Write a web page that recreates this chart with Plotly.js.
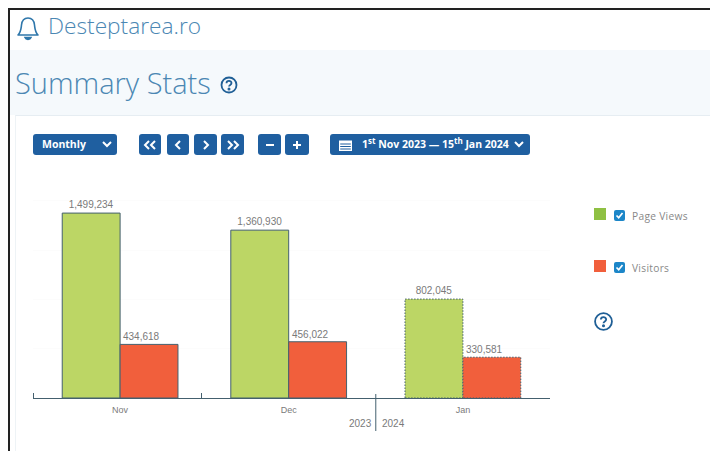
<!DOCTYPE html>
<html><head><meta charset="utf-8">
<script src="https://cdn.plot.ly/plotly-3.0.1.min.js"></script>
<style>
html,body{margin:0;padding:0;background:#fff;width:710px;height:451px;overflow:hidden;font-family:"Open Sans",sans-serif}
#frameT{position:absolute;left:8px;top:8px;width:702px;height:2px;background:#222}
#frameL{position:absolute;left:8px;top:8px;width:2px;height:443px;background:#222}
#band{position:absolute;left:10px;top:50px;width:700px;height:65px;background:#f5f9fc}
#panel{position:absolute;left:15px;top:115px;width:695px;height:336px;background:#fff;border-top:1px solid #e6edf2;border-left:1px solid #eef3f6;box-sizing:border-box}
.t{position:absolute;white-space:nowrap;line-height:1}
#brand{left:48px;top:15px;font-size:22.7px;font-weight:300;color:#4b87b3}
#title{left:15px;top:68px;font-size:29px;font-weight:300;color:#4b87b3}
.btn{position:absolute;top:134px;height:21px;background:#1f5fa0;border-radius:3px;color:#fff;font-weight:700;font-size:10.5px;line-height:21px;text-align:center}
.btn svg.g{left:50%;top:50%;margin-left:-7px;margin-top:-5px}
sup{font-size:8px;line-height:0}
.sq{position:absolute;left:594px;width:12px;height:12px}
.cb{position:absolute;left:614px;width:11px;height:11px;background:#1c86c8;border-radius:2px}
.lg{position:absolute;left:632px;font-size:10.2px;color:#888;line-height:1;letter-spacing:.3px}
svg{position:absolute;overflow:visible}
#plot{position:absolute;left:0;top:0;width:710px;height:451px}
</style></head><body>
<div id="band"></div><div id="panel"></div>
<div id="frameT"></div><div id="frameL"></div>
<svg style="left:17px;top:16px" width="22" height="25" viewBox="0 0 22 25" fill="none" stroke="#2f77ab" stroke-width="1.6">
<path d="M1 19 C4 16 4 13 4.5 9 C5 4 8 2 11 2 C14 2 17 4 17.5 9 C18 13 18 16 21 19 Z" stroke-linejoin="round"/>
<path d="M8 21.5 C9 24 13 24 14 21.5 Z" fill="#2f77ab"/></svg>
<div class="t" id="brand">Desteptarea.ro</div>
<div class="t" id="title">Summary Stats</div>
<svg style="left:220px;top:76px" width="18" height="18" viewBox="0 0 18 18" fill="none" stroke="#1f5f96" stroke-width="1.8">
<circle cx="9" cy="9" r="7.5"/><path d="M6.5 7.2 C6.5 4.2 11.5 4.2 11.5 7 C11.5 9 9 8.8 9 10.6"/><circle cx="9" cy="13" r=".6" fill="#1f5f96"/></svg>

<div class="btn" style="left:33px;width:84px;text-align:left;padding-left:9px;box-sizing:border-box">Monthly<svg style="left:69px;top:7px" width="10" height="7" viewBox="0 0 10 7" fill="none" stroke="#fff" stroke-width="2"><path d="M1 1 L5 5 L9 1"/></svg></div>
<div class="btn" style="left:139px;width:22px"><svg class="g" width="14" height="10" viewBox="0 0 14 10" fill="none" stroke="#fff" stroke-width="2"><path d="M6 1 L2 5 L6 9 M12 1 L8 5 L12 9"/></svg></div>
<div class="btn" style="left:167px;width:22px"><svg class="g" width="14" height="10" viewBox="0 0 14 10" fill="none" stroke="#fff" stroke-width="2"><path d="M9 1 L5 5 L9 9"/></svg></div>
<div class="btn" style="left:194px;width:23px"><svg class="g" width="14" height="10" viewBox="0 0 14 10" fill="none" stroke="#fff" stroke-width="2"><path d="M5 1 L9 5 L5 9"/></svg></div>
<div class="btn" style="left:221px;width:23px"><svg class="g" width="14" height="10" viewBox="0 0 14 10" fill="none" stroke="#fff" stroke-width="2"><path d="M2 1 L6 5 L2 9 M8 1 L12 5 L8 9"/></svg></div>
<div class="btn" style="left:258px;width:23px"><svg class="g" width="14" height="10" viewBox="0 0 14 10" fill="none" stroke="#fff" stroke-width="2"><path d="M3 5 H11"/></svg></div>
<div class="btn" style="left:285px;width:24px"><svg class="g" width="14" height="10" viewBox="0 0 14 10" fill="none" stroke="#fff" stroke-width="2"><path d="M3 5 H11 M7 1 V9"/></svg></div>
<div class="btn" style="left:330px;width:200px;text-align:left;padding-left:32px;box-sizing:border-box">1<sup>st</sup> Nov 2023 — 15<sup>th</sup> Jan 2024
<svg style="left:9px;top:5px" width="13" height="12" viewBox="0 0 13 12" fill="#fff"><rect x="0" y="1.5" width="13" height="10.5"/><rect x="1.2" y="4.5" width="10.6" height="1" fill="#1f5fa0"/><rect x="1.2" y="7" width="10.6" height="1" fill="#1f5fa0"/><rect x="1.2" y="9.5" width="10.6" height="1" fill="#1f5fa0"/></svg>
<svg style="left:184px;top:7px" width="10" height="7" viewBox="0 0 10 7" fill="none" stroke="#fff" stroke-width="2"><path d="M1 1 L5 5 L9 1"/></svg></div>

<div class="sq" style="top:208px;background:#8fc043"></div>
<div class="cb" style="top:210px"><svg width="11" height="11" viewBox="0 0 11 11" fill="none" stroke="#fff" stroke-width="1.7"><path d="M2.5 5.5 L4.7 7.8 L8.5 3"/></svg></div>
<div class="lg" style="top:211px">Page Views</div>
<div class="sq" style="top:260px;background:#f15f3c"></div>
<div class="cb" style="top:262px"><svg width="11" height="11" viewBox="0 0 11 11" fill="none" stroke="#fff" stroke-width="1.7"><path d="M2.5 5.5 L4.7 7.8 L8.5 3"/></svg></div>
<div class="lg" style="top:263px">Visitors</div>
<svg style="left:594px;top:312px" width="19" height="19" viewBox="0 0 18 18" fill="none" stroke="#1f5f96" stroke-width="1.7">
<circle cx="9" cy="9" r="8"/><path d="M6.5 7.2 C6.5 4.2 11.5 4.2 11.5 7 C11.5 9 9 8.8 9 10.6"/><circle cx="9" cy="13" r=".6" fill="#1f5f96"/></svg>

<div id="plot"></div>
<script>
const months = ['Nov', 'Dec', 'Jan'];
const monthCentres = ['2023-11-16 12:00', '2023-12-16 12:00', '2024-01-16 12:00'];
const monthStarts = ['2023-11-01', '2023-12-01'];
const yearBoundary = '2024-01-01';
const pageViews = [1499234, 1360930, 802045];
const visitors = [434618, 456022, 330581];
const fmt = v => v.toLocaleString('en-US');
const DAY = 86400000, barW = 10.3 * DAY;
const lineCol = '#44606e', font = 'Liberation Sans, Arial, sans-serif', txt = '#7a7a7a';
const barStyle = (fill) => ({color: fill, line: {color: lineCol, width: 1}});
const traces = [
 {type:'bar', name:'Page Views', x:monthCentres, y:pageViews, width:barW, offset:-barW,
  marker:barStyle('#bcd665'), text:pageViews.map(fmt), textposition:'outside', cliponaxis:false,
  textfont:{family:font,size:10,color:txt}, hoverinfo:'none'},
 {type:'bar', name:'Visitors', x:monthCentres, y:visitors, width:barW, offset:0,
  marker:barStyle('#f15f3c'), hoverinfo:'none'}
];
const annotations = visitors.map((v,i)=>({x:monthCentres[i], y:v, xref:'x', yref:'y', text:fmt(v), showarrow:false,
  xanchor:'left', yanchor:'bottom', xshift:1, yshift:0, font:{family:font,size:10,color:txt}}));
annotations.push(
 {x:yearBoundary,y:-25/222,xref:'x',yref:'paper',text:'2023',showarrow:false,xanchor:'right',yanchor:'middle',xshift:-2,font:{family:font,size:10,color:txt}},
 {x:yearBoundary,y:-25/222,xref:'x',yref:'paper',text:'2024',showarrow:false,xanchor:'left',yanchor:'middle',xshift:4,font:{family:font,size:10,color:txt}}
);
const layout = {
 width:710, height:451, margin:{l:33,r:160,t:176,b:53},
 paper_bgcolor:'rgba(0,0,0,0)', plot_bgcolor:'rgba(0,0,0,0)',
 barmode:'overlay', showlegend:false,
 xaxis:{type:'date', range:['2023-11-01','2024-02-01'], tickmode:'array', tickvals:monthCentres, ticktext:months,
  ticks:'outside', ticklen:3, tickcolor:'rgba(0,0,0,0)', tickfont:{family:font,size:9,color:txt},
  showgrid:false, showline:true, linecolor:lineCol, linewidth:1, zeroline:false,
  minor:{tickmode:'array', tickvals:monthStarts, ticks:'inside', ticklen:5, tickcolor:lineCol, tickwidth:1, showgrid:false}},
 yaxis:{range:[0,1800000], dtick:400000, showticklabels:false, ticks:'', gridcolor:'#fcfcfc', zeroline:false, showline:false},
 shapes:[{type:'line', xref:'x', yref:'paper', x0:yearBoundary, x1:yearBoundary, y0:-33/222, y1:4/222, line:{color:lineCol,width:1}}],
 annotations
};
Plotly.newPlot('plot', traces, layout, {displayModeBar:false, staticPlot:true}).then(()=>{
  // the partial month (January) is outlined with a dotted line
  document.querySelectorAll('#plot .trace.bars').forEach(t=>{
    const pts = t.querySelectorAll('.point path');
    const p = pts[pts.length-1];
    if(p){p.style.strokeDasharray='1.5,1.5';}
  });
});
</script>
</body></html>
